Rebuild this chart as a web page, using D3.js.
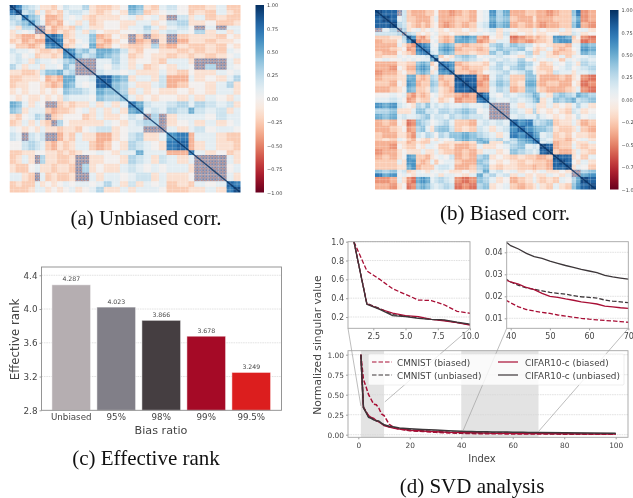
<!DOCTYPE html>
<html><head><meta charset="utf-8">
<script src="https://cdn.jsdelivr.net/npm/d3@7"></script>
<style>
html,body{margin:0;padding:0;background:#fff}
svg{display:block;filter:blur(0.3px)}
text{font-family:"DejaVu Sans",sans-serif;fill:#444}
.cap{font-family:"Liberation Serif",serif;font-size:21px;fill:#111;text-anchor:middle}
</style></head><body>
<svg id="c" width="633" height="498"></svg>
<script>
// ---- heatmap (a): block edges (per mille) and upper-triangle levels.
// digit = +n/10, letters a..f = negative levels, m = fine mix of strong + and -
const edgesA=[0,27,53,82,110,132,155,181,206,232,258,285,315,345,375,408,442,478,514,547,580,613,647,680,725,775,800,847,894,940,970,1000];
const rowsA=[
"97 32 1a ab0 21 13a bb a0 54 ab1 20b ba1 bb",
"9 23 a1 bab 12 21a ba 0a 43 ba0 10b ab1 ab",
"74 30 ccb 10 1ab aa a0 1a 01a m2a 1ba bb",
"6 31 cbc 01 a1b a0 0a a1 1a0 23a a0b ba",
"mm acb ab 21a a0 0a 11 31a 120 m1m 11",
"m bca ba 1a2 0a a0 01 2a1 210 3a1 a1",
"786 ba 114 cb 0a mb mba mba aab 0a",
"87 ab 014 bc a0 mc bma mca aba a0",
"7 ba 105 cb 0a bb a3b cab bab 0a",
"76 342 55 42 ab 00a aba bab 10",
"7 423 54 31 ba 0aa bab aba 01",
"mmm 11 31 a0 0ab 11a mmm 1a",
"mm 10 21 a1 ba0 a10 m3m 10",
"m 21 10 1a aa1 ab0 aa1 01",
"88 54 a1 1a2 cc1 a0a 13",
"8 43 1a a12 cb0 0a1 3a",
"43 a1 a0a a0a 0a1 1a",
"4 1a 0a0 0a1 a10 a1",
"75 211 231 321 2a",
"6 121 325 212 a1",
"m3m a11 102 11",
"3m a01 a1a 01",
"m 1a1 201 10",
"67c 11a bb",
"8c a1a ab",
"7 1a0 ba",
"mmm 1a",
"mm 01",
"m 1a",
"87",
"9"];
const stripesA=[18,45,70,95,125,145,175,200,222,250,272,300,330,358,392,420,455,490,530,565,600,640,672,705,740,762,790,825,860,905,955,985];
// ---- heatmap (b)
const edgesB=[0,33,66,100,122,143,164,185,207,228,250,268,287,311,336,360,393,426,460,488,517,548,579,610,645,680,714,730,745,775,805,833,861,890,910,930,965,1000];
const rowsB=[
"988 m2 bc ccb b0 ccd cbc 01 635 ccb bc cd cbb 47 dc",
"98 12 bb ccc a1 ccc bbc 01 534 bcc ac cc bbb 35 dc",
"9 32 ab cbc a0 cdc bcb 12 645 cbc bc dc cbb 46 cd",
"m3 a0 1a0 10 a0a a0a 01 2a1 0aa 1a 0a a1a 10 1a",
"m 32 a0a 01 aa0 aa0 10 1a2 a0a 0a a0 0aa 21 a0",
"96 cdb 10 bcb 565 cd 0a1 edc bc ba 665 b0 de",
"9 dcc 01 bcb 554 dc a11 dcd cb ba 566 aa ed",
"876 10 454 bcb ba 342 432 0a 0a bbc 11 54",
"87 11 565 cbb cb 243 341 ab a1 bcb 01 65",
"8 21 454 bba bb 424 213 bb 1a cbb a1 54",
"85 b0a 343 01 121 0a2 01 1a a1b 10 12",
"9 0a1 232 10 212 130 a1 01 0b1 01 21",
"876 cba ab 132 243 10 ba 102 1a 32",
"86 bcb ba 231 342 0a bb 012 01 23",
"8 bbc b0 123 124 1a ab 211 a1 12",
"988 cd 132 bb4 4a cc cbc a0 de",
"98 dc 243 ba5 5b cb bcc 0a ed",
"9 cc 132 cb4 4a bc ccb a1 de",
"97 102 123 54 1a 343 25 43",
"8 211 212 45 a1 434 52 34",
"mmm 1a1 2a a1 a0a 13 1a",
"mm 21a 3a 0a 0ab 21 a0",
"m 121 13 10 a0a 02 01",
"867 32 34 baa 1a cb",
"86 54 43 abb a1 bc",
"8 65 12 bab 0a ab",
"87 21 bbc a0 1a",
"8 12 cbb 0a a1",
"98 cbb 1a ba",
"9 bcc a1 ab",
"988 a0 b1",
"98 0a 1a",
"9 a1 0b",
"mm 34",
"m 56",
"98",
"9"];
const stripesB=[22,50,76,113,130,158,195,215,240,262,298,322,350,375,405,440,470,505,530,560,590,622,655,690,722,760,790,820,850,878,905,945,975];
const cbarTicksA=[1,0.75,0.5,0.25,0,-0.25,-0.5,-0.75,-1];
const cbarLabelsA=["1.00","0.75","0.50","0.25","0.00","\u22120.25","\u22120.50","\u22120.75","\u22121.00"];
const cbarLabelsB=["1.00","0.75","0.50","0.25","0.00","\u22120.2","\u22120.5","\u22120.7","\u22121.0"];
// ---- bar chart
const biasCats=["Unbiased","95%","98%","99%","99.5%"];
const rankVals=[4.287,4.023,3.866,3.678,3.249];
const barColors=["#b5aeb1","#817f88","#453e41","#a50a26","#dc1e1e"];
const rankTicks=[2.8,3.2,3.6,4.0,4.4];
// ---- SVD curves
const svdIndex=[1,2,3,4,5,6,7,8,9,10,12,14,16,20,25,30,35,40,42,44,46,48,50,52,54,56,58,60,62,64,66,68,70,80,90,100];
const cmnistBiased=[1,.69,.6,.5,.44,.38,.375,.33,.26,.24,.13,.085,.07,.05,.04,.03,.022,.017,.0152,.014,.0133,.0127,.0122,.0115,.011,.0105,.01,.0096,.0093,.009,.0088,.0085,.0082,.007,.006,.005];
const cmnistUnbiased=[1,.345,.29,.225,.21,.19,.175,.165,.14,.12,.1,.088,.075,.06,.048,.04,.032,.0265,.025,.0238,.0232,.0225,.0218,.0213,.021,.0203,.0198,.0195,.0192,.0183,.0178,.0175,.0171,.014,.012,.011];
const cifarBiased=[1,.34,.285,.24,.215,.205,.175,.16,.14,.115,.095,.08,.07,.055,.045,.038,.03,.0265,.0255,.024,.023,.0213,.02,.0195,.0188,.0182,.0175,.017,.0165,.0155,.0152,.0148,.0145,.012,.01,.009];
const cifarUnbiased=[1,.335,.28,.215,.205,.185,.175,.17,.145,.125,.105,.095,.085,.075,.065,.058,.05,.043,.0415,.0395,.038,.0372,.036,.035,.034,.0332,.0322,.0315,.0308,.0295,.0288,.0283,.0278,.024,.021,.019];
const seriesNames=["CMNIST (biased)","CMNIST (unbiased)","CIFAR10-c (biased)","CIFAR10-c (unbiased)"];
const captions=["(a) Unbiased corr.","(b) Biased corr.","(c) Effective rank","(d) SVD analysis"];

const svg=d3.select("#c");
const defs=svg.append("defs");
defs.append("filter").attr("id","hb").attr("x","-5%").attr("y","-5%").attr("width","110%").attr("height","110%")
  .append("feGaussianBlur").attr("stdDeviation",0.7);
// fine mix of strong positive and negative correlations, seen as muted grey-purple
const mix=defs.append("pattern").attr("id","mix").attr("width",3).attr("height",3).attr("patternUnits","userSpaceOnUse");
mix.append("rect").attr("width",3).attr("height",3).attr("fill","#a49fb4");
mix.append("rect").attr("width",1.5).attr("height",1.5).attr("fill","#b9928f");
mix.append("rect").attr("x",1.5).attr("y",1.5).attr("width",1.5).attr("height",1.5).attr("fill","#7f8bab");

function level(ch){const n=parseInt(ch,10);return isNaN(n)?-((ch.charCodeAt(0)-96)/10+.05):n/10;}
function heatmap(edges,rows,stripes,x0,x1,y0,y1){
  const n=edges.length-1;
  const sx=d3.scaleLinear().domain([0,1000]).range([x0,x1]);
  const sy=d3.scaleLinear().domain([0,1000]).range([y0,y1]);
  const color=d3.scaleSequential(d3.interpolateRdBu).domain([-1,1]);
  const cells=[];
  rows.forEach((r,i)=>{const s=r.replace(/ /g,"");
    for(let k=0;k<s.length;k++){const j=i+k,c=s[k];
      cells.push({i,j,c}); if(i!==j)cells.push({i:j,j:i,c});}});
  const cid="clip"+x0;
  defs.append("clipPath").attr("id",cid).append("rect").attr("x",x0).attr("y",y0).attr("width",x1-x0).attr("height",y1-y0);
  const g=svg.append("g").attr("clip-path",`url(#${cid})`).append("g").attr("filter","url(#hb)");
  g.selectAll("rect").data(cells).join("rect")
   .attr("x",d=>sx(edges[d.j])).attr("y",d=>sy(edges[d.i]))
   .attr("width",d=>sx(edges[d.j+1])-sx(edges[d.j])+.5)
   .attr("height",d=>sy(edges[d.i+1])-sy(edges[d.i])+.5)
   .attr("fill",d=>d.c==="m"?"url(#mix)":color(level(d.c)));
  const st=g.append("g").attr("stroke","#fff").attr("stroke-opacity",.22).attr("stroke-width",.9);
  st.selectAll("line.v").data(stripes).join("line").attr("class","v")
    .attr("x1",d=>sx(d)).attr("x2",d=>sx(d)).attr("y1",y0).attr("y2",y1);
  st.selectAll("line.h").data(stripes).join("line").attr("class","h")
    .attr("y1",d=>sy(d)).attr("y2",d=>sy(d)).attr("x1",x0).attr("x2",x1);
  g.append("g").selectAll("line").data(d3.range(n)).join("line")
   .attr("x1",d=>sx(edges[d])).attr("y1",d=>sy(edges[d]))
   .attr("x2",d=>sx(edges[d+1])).attr("y2",d=>sy(edges[d+1]))
   .attr("stroke",color(1)).attr("stroke-width",1.3).attr("opacity",.8);
}
function colorbar(x,w,y0,y1,labels){
  const s=d3.scaleLinear().domain([1,-1]).range([y0,y1]);
  const id="g"+x;
  const lg=defs.append("linearGradient").attr("id",id).attr("x1",0).attr("y1",0).attr("x2",0).attr("y2",1);
  d3.range(0,1.0001,.05).forEach(t=>lg.append("stop").attr("offset",t).attr("stop-color",d3.interpolateRdBu(1-t)));
  svg.append("rect").attr("x",x).attr("y",y0).attr("width",w).attr("height",y1-y0).attr("fill",`url(#${id})`);
  const ax=svg.append("g").attr("transform",`translate(${x+w},0)`)
    .call(d3.axisRight(s).tickValues(cbarTicksA).tickSize(0).tickPadding(3).tickFormat((d,i)=>labels[i]));
  ax.select(".domain").remove();
  ax.selectAll("text").style("font-size","5px");
}
heatmap(edgesA,rowsA,stripesA,9.5,240.5,5,192.5);
colorbar(255.5,8.5,5,192.5,cbarLabelsA);
heatmap(edgesB,rowsB,stripesB,375,596,10,189.5);
colorbar(610,8.5,10,189.5,cbarLabelsB);

function frame(x0,x1,y0,y1,col){
  svg.append("rect").attr("x",x0).attr("y",y0).attr("width",x1-x0).attr("height",y1-y0)
    .attr("fill","none").attr("stroke",col).attr("stroke-width",.9);
}
function style(ax,fs,col){
  ax.select(".domain").remove();
  ax.selectAll("line").attr("stroke",col).attr("stroke-width",.7);
  ax.selectAll("text").style("font-size",fs+"px");
}
function hgrid(ticks,sy,x0,x1){
  svg.append("g").selectAll("line").data(ticks).join("line")
   .attr("x1",x0).attr("x2",x1).attr("y1",d=>sy(d)).attr("y2",d=>sy(d))
   .attr("stroke","#d6d6d6").attr("stroke-width",.7).attr("stroke-dasharray","1.6 .8");
}

// ---- (c) bars
{
  const L=41.5,R=281.5,T=267,B=410.3;
  const y=d3.scaleLinear().domain([2.8,4.498]).range([B,T]);
  const x=d3.scaleBand().domain(biasCats).range([48.75,273.75]).paddingInner(.14).paddingOuter(.07);
  hgrid(rankTicks.slice(1),y,L,R);
  svg.append("g").selectAll("rect").data(biasCats).join("rect")
    .attr("x",d=>x(d)).attr("width",x.bandwidth())
    .attr("y",(d,i)=>y(rankVals[i])).attr("height",(d,i)=>B-y(rankVals[i]))
    .attr("fill",(d,i)=>barColors[i]).attr("stroke","#fff").attr("stroke-opacity",.55).attr("stroke-width",.9);
  svg.append("g").selectAll("text").data(biasCats).join("text")
    .attr("x",d=>x(d)+x.bandwidth()/2).attr("y",(d,i)=>y(rankVals[i])-3.4)
    .attr("text-anchor","middle").style("font-size","6.2px")
    .text((d,i)=>rankVals[i].toFixed(3));
  style(svg.append("g").attr("transform",`translate(${L},0)`).call(d3.axisLeft(y).tickValues(rankTicks).tickSize(2).tickPadding(2).tickFormat(d3.format(".1f"))),8.8,"#777");
  style(svg.append("g").attr("transform",`translate(0,${B})`).call(d3.axisBottom(x).tickSize(0).tickPadding(4)),8.7,"#777");
  frame(L,R,T,B,"#8a8a8a");
  svg.append("text").attr("x",161).attr("y",434).attr("text-anchor","middle").style("font-size","11.2px").text("Bias ratio");
  svg.append("text").attr("transform","translate(18.5,339.5) rotate(-90)").attr("text-anchor","middle").style("font-size","11.8px").text("Effective rank");
}

// ---- (d) SVD
const RED="#a80e35",DARK="#3c3639";
const allSeries=[
 {v:cmnistBiased,c:RED,d:"4.5 2"},
 {v:cmnistUnbiased,c:DARK,d:"4.5 2"},
 {v:cifarBiased,c:RED,d:null},
 {v:cifarUnbiased,c:DARK,d:null}];
function lines(x,y,clip,w){
  const g=svg.append("g").attr("clip-path",`url(#${clip})`);
  allSeries.forEach(s=>{
    const pts=svdIndex.map((ix,i)=>[ix,s.v[i]]);
    g.append("path").attr("d",d3.line().x(d=>x(d[0])).y(d=>y(d[1]))(pts))
     .attr("fill","none").attr("stroke",s.c).attr("stroke-width",w).attr("stroke-dasharray",s.d);
  });
}
function clip(id,x0,x1,y0,y1){defs.append("clipPath").attr("id",id).append("rect").attr("x",x0).attr("y",y0).attr("width",x1-x0).attr("height",y1-y0);}

const mainX=d3.scaleLinear().domain([0,100]).range([358.3,615.7]);
const mainY=d3.scaleLinear().domain([0,1]).range([434.7,354.7]);
{
  const L=348,R=628,T=350.7,B=437.3;
  svg.append("g").selectAll("rect").data([[1,10],[40,70]]).join("rect")
    .attr("x",d=>mainX(d[0])).attr("width",d=>mainX(d[1])-mainX(d[0])).attr("y",T).attr("height",B-T).attr("fill","#e3e3e3");
  hgrid([0,.25,.5,.75,1],mainY,L,R);
  clip("m",L,R,T,B);
  lines(mainX,mainY,"m",1.5);
  style(svg.append("g").attr("transform",`translate(${L},0)`).call(d3.axisLeft(mainY).tickValues([0,.25,.5,.75,1]).tickSize(2).tickPadding(2).tickFormat(d3.format(".2f"))),7.4,"#777");
  style(svg.append("g").attr("transform",`translate(0,${B})`).call(d3.axisBottom(mainX).tickValues([0,20,40,60,80,100]).tickSize(2).tickPadding(3)),7.4,"#777");
  frame(L,R,T,B,"#a5a5a5");
  svg.append("text").attr("x",482).attr("y",462).attr("text-anchor","middle").style("font-size","10px").text("Index");
  svg.append("text").attr("transform","translate(320.5,345) rotate(-90)").attr("text-anchor","middle").style("font-size","10.7px").text("Normalized singular value");
}
{
  const L=348,R=470,T=241.7,B=328.3;
  const x=d3.scaleLinear().domain([2.5,10]).range([373.3,470]);
  const y=d3.scaleLinear().domain([.2,1]).range([317,241.7]);
  const tk=[.2,.4,.6,.8,1];
  hgrid(tk,y,L,R); clip("l",L,R,T,B); lines(x,y,"l",1.3);
  style(svg.append("g").attr("transform",`translate(${L},0)`).call(d3.axisLeft(y).tickValues(tk).tickSize(2).tickPadding(2).tickFormat(d3.format(".1f"))),8,"#777");
  style(svg.append("g").attr("transform",`translate(0,${B})`).call(d3.axisBottom(x).tickValues([2.5,5,7.5,10]).tickSize(2).tickPadding(3).tickFormat(d3.format(".1f"))),8,"#777");
  frame(L,R,T,B,"#a5a5a5");
}
{
  const L=506.7,R=628.3,T=241.7,B=328.3;
  const x=d3.scaleLinear().domain([40,70]).range([510.7,628.3]);
  const y=d3.scaleLinear().domain([.01,.04]).range([318.3,252.3]);
  const tk=[.01,.02,.03,.04];
  hgrid(tk,y,L,R); clip("r",L,R,T,B); lines(x,y,"r",1.3);
  style(svg.append("g").attr("transform",`translate(${L},0)`).call(d3.axisLeft(y).tickValues(tk).tickSize(2).tickPadding(2).tickFormat(d3.format(".2f"))),8,"#777");
  style(svg.append("g").attr("transform",`translate(0,${B})`).call(d3.axisBottom(x).tickValues([40,50,60,70]).tickSize(2).tickPadding(3)),8,"#777");
  frame(L,R,T,B,"#a5a5a5");
}
// connectors
svg.append("g").selectAll("line").data([
  [348,328.3,mainX(1),mainY(.36)],[470,328.3,mainX(10.3),mainY(.41)],
  [506.7,328.3,mainX(40.7),mainY(.05)],[628.3,328.3,mainX(70),mainY(.04)]]).join("line")
  .attr("x1",d=>d[0]).attr("y1",d=>d[1]).attr("x2",d=>d[2]).attr("y2",d=>d[3])
  .attr("stroke","#a0a0a0").attr("stroke-width",.7);
// legend
{
  const g=svg.append("g");
  g.append("rect").attr("x",368.3).attr("y",354).attr("width",255.7).attr("height",31).attr("rx",1.5)
    .attr("fill","#fff").attr("fill-opacity",.8).attr("stroke","#ddd").attr("stroke-width",.5);
  const pos=[[372,363],[372,376],[498,363],[498,376]];
  allSeries.forEach((s,i)=>{
    g.append("line").attr("x1",pos[i][0]).attr("x2",pos[i][0]+20).attr("y1",pos[i][1]-1).attr("y2",pos[i][1]-1)
      .attr("stroke",s.c).attr("stroke-width",1.2).attr("stroke-dasharray",s.d);
    g.append("text").attr("x",pos[i][0]+(i<2?25:27)).attr("y",pos[i][1]+2.5).style("font-size","8.9px").text(seriesNames[i]);
  });
}
const capPos=[[146,225],[505,220],[146,465],[472,493]];
svg.append("g").selectAll("text").data(captions).join("text").attr("class","cap")
  .attr("x",(d,i)=>capPos[i][0]).attr("y",(d,i)=>capPos[i][1]).text(d=>d);
</script>
</body></html>
